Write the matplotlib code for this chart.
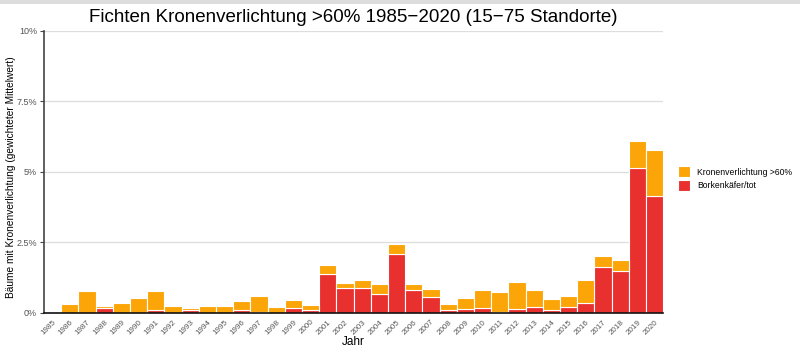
import numpy as np
import matplotlib.pyplot as plt
from matplotlib.patches import Rectangle

plt.rcParams['font.family'] = ['Liberation Sans', 'DejaVu Sans']

# Data (percent of trees)
years = list(range(1985, 2021))
total = [0.0, 0.30, 0.77, 0.26, 0.35, 0.53, 0.79, 0.26, 0.18, 0.26,
         0.24, 0.44, 0.61, 0.21, 0.47, 0.27, 1.69, 1.07, 1.16, 1.02,
         2.43, 1.02, 0.85, 0.30, 0.53, 0.83, 0.74, 1.11, 0.81, 0.51,
         0.59, 1.18, 2.02, 1.89, 6.10, 5.79]
beetle = [0.0, 0.0, 0.0, 0.17, 0.0, 0.0, 0.12, 0.0, 0.11, 0.0,
          0.0, 0.12, 0.05, 0.0, 0.17, 0.09, 1.39, 0.90, 0.89, 0.68,
          2.08, 0.81, 0.57, 0.09, 0.15, 0.19, 0.05, 0.15, 0.21, 0.12,
          0.21, 0.34, 1.64, 1.48, 5.14, 4.16]
yticks = [0, 2.5, 5, 7.5, 10]
ytick_labels = ['0%', '2.5%', '5%', '7.5%', '10%']

orange = '#FBA508'
red = '#E8302F'

fig = plt.figure(figsize=(8, 3.52), dpi=100)
ax = fig.add_axes([0.055, 0.111, 0.774, 0.801])

x = np.arange(len(years))
total = np.array(total)
beetle = np.array(beetle)
rest = total - beetle

ax.bar(x, beetle, width=1.0, color=red, edgecolor='white', linewidth=0.8,
       label='Borkenkäfer/tot', zorder=3)
ax.bar(x, rest, bottom=beetle, width=1.0, color=orange, edgecolor='white',
       linewidth=0.8, label='Kronenverlichtung >60%', zorder=3)

ax.set_xlim(-0.5, len(years) - 0.5)
ax.set_ylim(0, 10)
ax.set_yticks(yticks)
ax.set_yticklabels(ytick_labels, fontsize=6.5, color='#555555')
ax.set_xticks(x)
ax.set_xticklabels([str(y) for y in years], rotation=45, ha='right',
                   rotation_mode='anchor', fontsize=5.8, color='#555555')
ax.tick_params(axis='x', length=0, pad=4)
ax.tick_params(axis='y', length=3, width=0.8, color='#444444', pad=2)
ax.grid(axis='y', color='#dddddd', linewidth=0.9, zorder=0)

for side in ['top', 'right']:
    ax.spines[side].set_visible(False)
ax.spines['left'].set_color('#444444')
ax.spines['left'].set_linewidth(1.2)
ax.spines['bottom'].set_color('#111111')
ax.spines['bottom'].set_linewidth(1.2)
ax.spines['bottom'].set_zorder(4)

ax.set_xlabel('Jahr', fontsize=8.5, labelpad=0)
ax.set_ylabel('Bäume mit Kronenverlichtung (gewichteter Mittelwert)', fontsize=7.3)
ax.yaxis.set_label_coords(-0.046, 0.48)

fig.text(0.442, 0.95, 'Fichten Kronenverlichtung >60% 1985\u22122020 (15\u221275 Standorte)',
         ha='center', va='center', fontsize=13.5)

handles, labels = ax.get_legend_handles_labels()
ax.legend(handles[::-1], labels[::-1], loc='upper left', bbox_to_anchor=(0.838, 0.55),
          bbox_transform=fig.transFigure, frameon=False, fontsize=6.2,
          handlelength=1.4, handleheight=1.6, handletextpad=0.8, labelspacing=0.3)

# light gray strip at the top edge
fig.patches.append(Rectangle((0, 0.99), 1, 0.01, transform=fig.transFigure,
                             facecolor='#dddddd', edgecolor='none'))

fig.savefig('out.png', dpi=100)
